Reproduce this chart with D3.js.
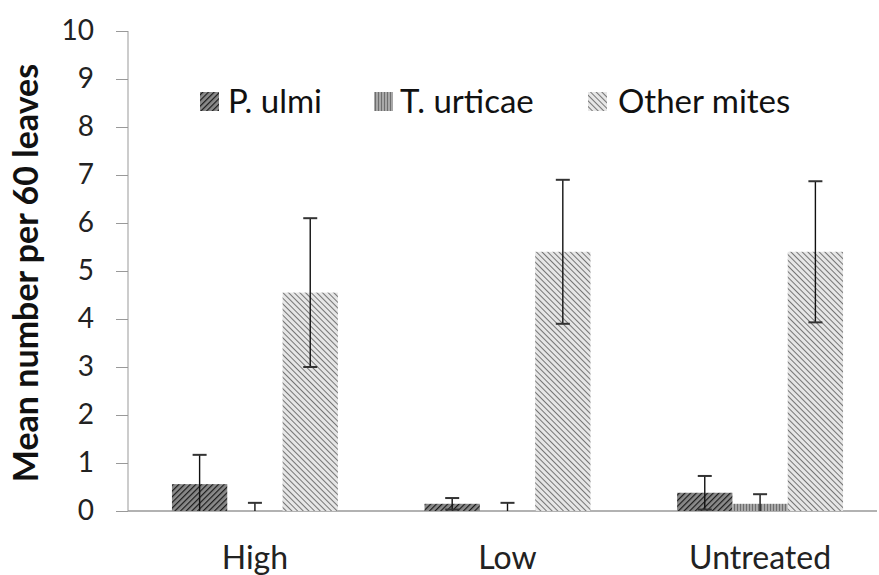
<!DOCTYPE html>
<html>
<head>
<meta charset="utf-8">
<script src="https://cdn.jsdelivr.net/npm/d3@7"></script>
<style>
  body { margin: 0; background: #fff; }
  text { font-family: Lato, "Open Sans", sans-serif; }
</style>
</head>
<body>
<svg id="chart"></svg>
<script>
// data
const categories = ['High', 'Low', 'Untreated'];
const seriesNames = ['P. ulmi', 'T. urticae', 'Other mites'];
const pUlmi = [0.56, 0.15, 0.38];
const pUlmiErr = [0.61, 0.12, 0.35];
const tUrticae = [0.0, 0.0, 0.15];
const tUrticaeErr = [0.17, 0.17, 0.2];
const otherMites = [4.55, 5.4, 5.4];
const otherMitesErr = [1.55, 1.5, 1.47];
const yTicks = [0, 1, 2, 3, 4, 5, 6, 7, 8, 9, 10];

const W = 879, H = 575;
const margin = { top: 31, right: 2, bottom: 64, left: 128 };
const width = W - margin.left - margin.right;
const height = H - margin.top - margin.bottom;

const svg = d3.select('#chart').attr('width', W).attr('height', H);

// fill patterns
const defs = svg.append('defs');
function hatch(id, angle, color, bg, gap, sw) {
  const p = defs.append('pattern')
    .attr('id', id)
    .attr('patternUnits', 'userSpaceOnUse')
    .attr('width', gap).attr('height', gap)
    .attr('patternTransform', `rotate(${angle})`);
  p.append('rect').attr('width', gap).attr('height', gap).attr('fill', bg);
  p.append('line').attr('x1', 0).attr('y1', 0).attr('x2', 0).attr('y2', gap)
    .attr('stroke', color).attr('stroke-width', sw);
}
hatch('pat0', 45, '#1a1a1a', '#8a8a8a', 4, 2.4);
hatch('pat1', 0, '#555', '#a8a8a8', 3, 1.4);
hatch('pat2', -45, '#6f6f6f', '#e6e6e6', 4, 1.9);

const chart = svg.append('g').attr('transform', `translate(${margin.left},${margin.top})`);

// groups are a bit wider than the visible axis (the plot ends before the last outer gap)
const x0 = d3.scaleBand().domain(categories).range([0, 759]).paddingInner(0.343).paddingOuter(0.174);
const x1 = d3.scaleBand().domain(seriesNames).range([0, x0.bandwidth()]);
const y = d3.scaleLinear().domain([0, 10]).range([height, 0]);

// y axis
const yAxis = chart.append('g')
  .call(d3.axisLeft(y).tickValues(yTicks).tickSize(12).tickPadding(22));
yAxis.select('.domain').attr('stroke', '#999').attr('d', `M0,${height}V0`);
yAxis.selectAll('.tick line').attr('stroke', '#999');
yAxis.selectAll('.tick text').attr('font-size', 28).attr('fill', '#222');

// x axis
const xAxis = chart.append('g')
  .attr('transform', `translate(0,${height})`)
  .call(d3.axisBottom(x0).tickSize(0).tickPadding(35));
xAxis.select('.domain').attr('stroke', '#999').attr('stroke-width', 1.5).attr('d', `M0,0H${width}`);
xAxis.selectAll('.tick text').attr('font-size', 32).attr('fill', '#222');

const series = [
  { name: seriesNames[0], values: pUlmi, err: pUlmiErr },
  { name: seriesNames[1], values: tUrticae, err: tUrticaeErr },
  { name: seriesNames[2], values: otherMites, err: otherMitesErr }
];

series.forEach((s, si) => {
  const g = chart.append('g');
  g.selectAll('rect')
    .data(categories)
    .join('rect')
      .attr('x', c => x0(c) + x1(s.name))
      .attr('y', (c, i) => y(s.values[i]))
      .attr('width', x1.bandwidth())
      .attr('height', (c, i) => y(0) - y(s.values[i]))
      .attr('fill', `url(#pat${si})`);

  // error bars
  categories.forEach((c, i) => {
    const cx = x0(c) + x1(s.name) + x1.bandwidth() / 2;
    const hi = s.values[i] + s.err[i];
    const lo = Math.max(0, s.values[i] - s.err[i]);
    g.append('line').attr('x1', cx).attr('x2', cx)
      .attr('y1', y(hi)).attr('y2', y(lo))
      .attr('stroke', '#111').attr('stroke-width', 1.4);
    g.append('line').attr('x1', cx - 7).attr('x2', cx + 7)
      .attr('y1', y(hi)).attr('y2', y(hi))
      .attr('stroke', '#333').attr('stroke-width', 2);
    if (lo > 0) {
      g.append('line').attr('x1', cx - 7).attr('x2', cx + 7)
        .attr('y1', y(lo)).attr('y2', y(lo))
        .attr('stroke', '#333').attr('stroke-width', 2);
    }
  });
});

// y title
svg.append('text')
  .attr('transform', `translate(38,${margin.top + height / 2 + 2}) rotate(-90)`)
  .attr('text-anchor', 'middle')
  .attr('font-size', 34)
  .attr('font-weight', 'bold')
  .attr('fill', '#111')
  .text('Mean number per 60 leaves');

// legend
const legendMarkX = [200, 374, 588];
const legendTextX = [228, 400, 618];
const legend = svg.append('g');
seriesNames.forEach((n, i) => {
  legend.append('rect')
    .attr('x', legendMarkX[i]).attr('y', 92)
    .attr('width', 19).attr('height', 19)
    .attr('fill', `url(#pat${i})`);
  legend.append('text')
    .attr('x', legendTextX[i]).attr('y', 113)
    .attr('font-size', 33)
    .attr('fill', '#111')
    .text(n);
});
</script>
</body>
</html>
